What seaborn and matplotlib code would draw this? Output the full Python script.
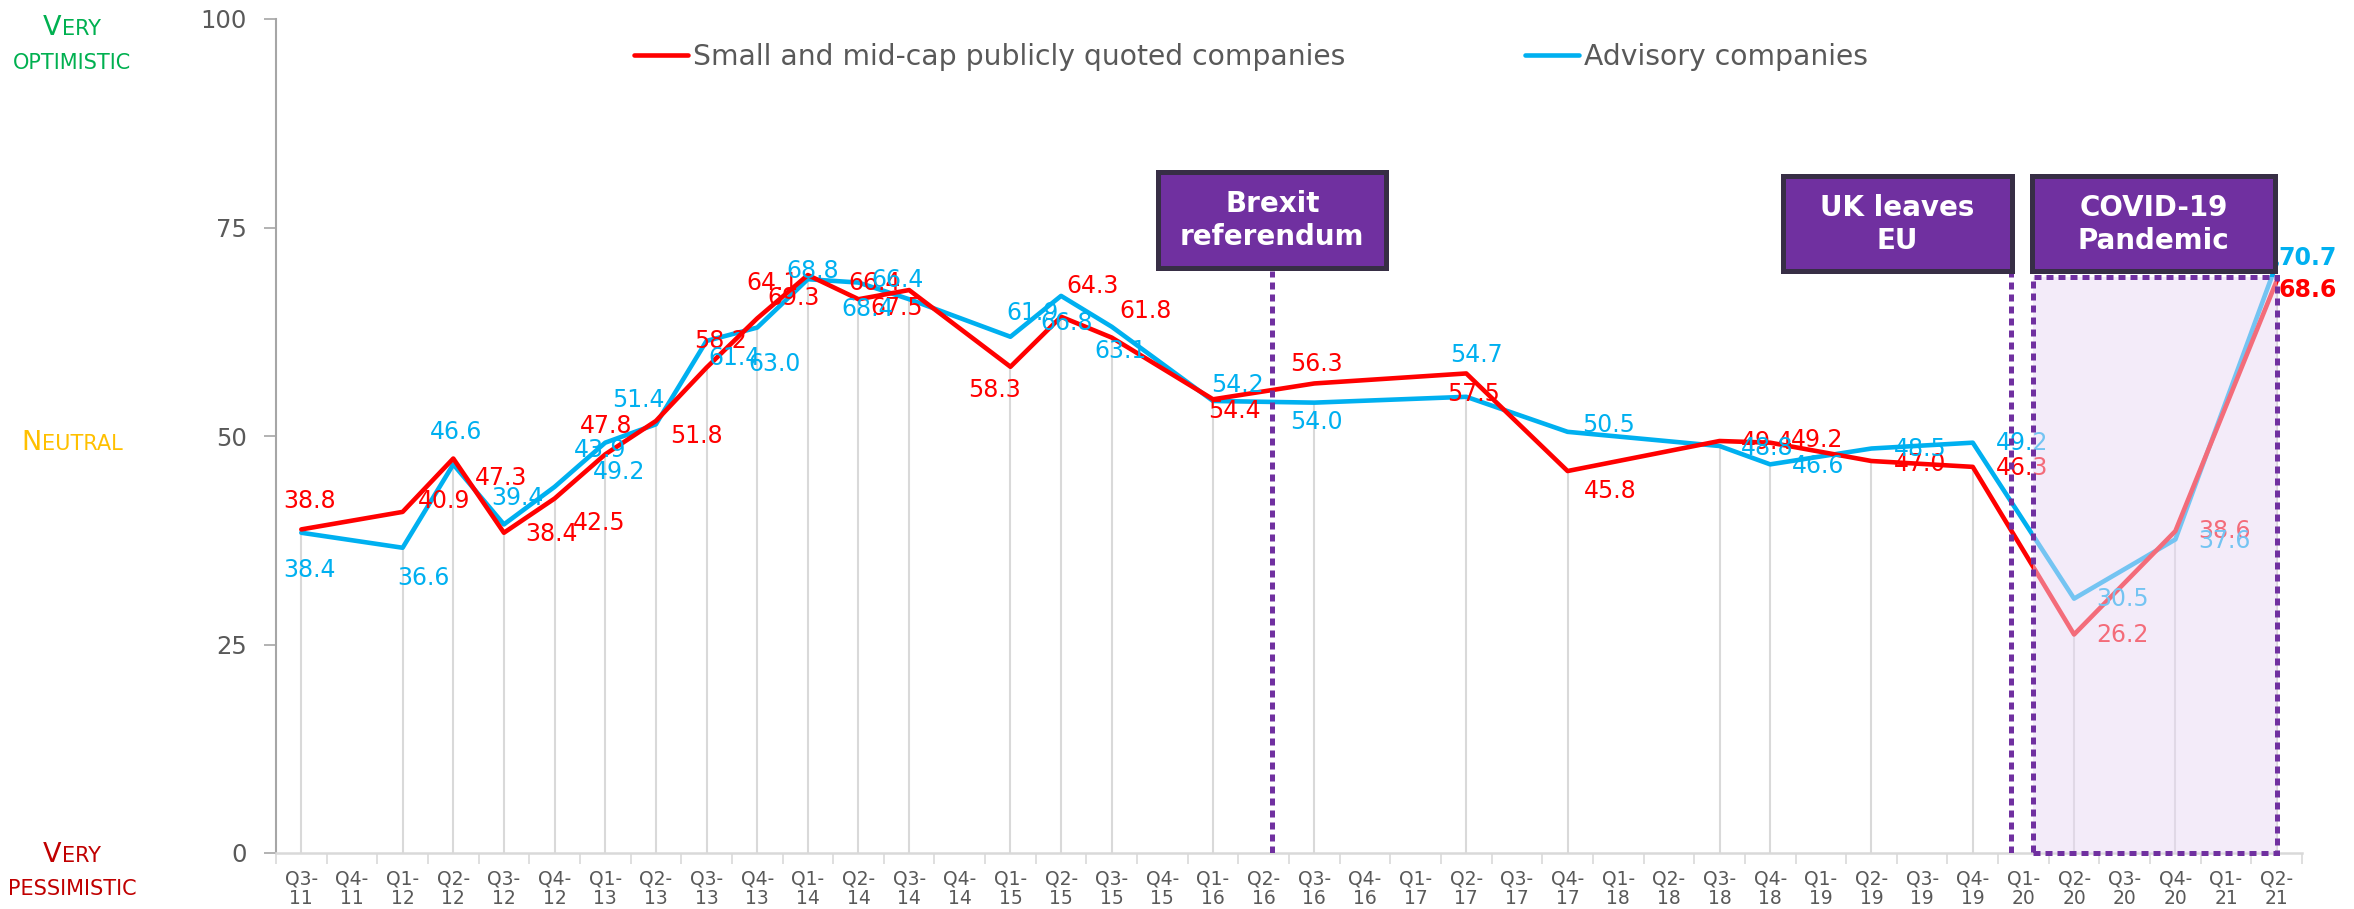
import numpy as np
import pandas as pd
import matplotlib
matplotlib.use("Agg")
import matplotlib.pyplot as plt
import seaborn as sns
from matplotlib.patches import Rectangle
from matplotlib.lines import Line2D

# ---------------- data ----------------
quarters = ["Q3-11", "Q4-11", "Q1-12", "Q2-12", "Q3-12", "Q4-12", "Q1-13", "Q2-13",
            "Q3-13", "Q4-13", "Q1-14", "Q2-14", "Q3-14", "Q4-14", "Q1-15", "Q2-15",
            "Q3-15", "Q4-15", "Q1-16", "Q2-16", "Q3-16", "Q4-16", "Q1-17", "Q2-17",
            "Q3-17", "Q4-17", "Q1-18", "Q2-18", "Q3-18", "Q4-18", "Q1-19", "Q2-19",
            "Q3-19", "Q4-19", "Q1-20", "Q2-20", "Q3-20", "Q4-20", "Q1-21", "Q2-21"]

survey_quarters = ["Q3-11", "Q1-12", "Q2-12", "Q3-12", "Q4-12", "Q1-13", "Q2-13", "Q3-13",
                   "Q4-13", "Q1-14", "Q2-14", "Q3-14", "Q1-15", "Q2-15", "Q3-15", "Q1-16",
                   "Q3-16", "Q2-17", "Q4-17", "Q3-18", "Q4-18", "Q2-19", "Q4-19", "Q2-20",
                   "Q4-20", "Q2-21"]

small_mid_cap = [38.8, 40.9, 47.3, 38.4, 42.5, 47.8, 51.8, 58.2, 64.1, 69.3, 66.4, 67.5,
                 58.3, 64.3, 61.8, 54.4, 56.3, 57.5, 45.8, 49.4, 49.2, 47.0, 46.3, 26.2,
                 38.6, 68.6]
advisory = [38.4, 36.6, 46.6, 39.4, 43.9, 49.2, 51.4, 61.4, 63.0, 68.8, 68.4, 66.4,
            61.9, 66.8, 63.1, 54.2, 54.0, 54.7, 50.5, 48.8, 46.6, 48.5, 49.2, 30.5,
            37.6, 70.7]

series_names = ["Small and mid-cap publicly quoted companies", "Advisory companies"]
events = ["Brexit\nreferendum", "UK leaves\nEU", "COVID-19\nPandemic"]
sentiment_top = ("V", "ERY", "OPTIMISTIC")
sentiment_mid = ("N", "EUTRAL")
sentiment_bot = ("V", "ERY", "PESSIMISTIC")

# data-label offsets (pixels) - styling only
red_off = [(8, 28), (41, 11), (48, -19), (48, -1), (45, -24), (1, 28), (41, -15), (14, 27),
           (15, 35), (-14, -23), (16, 16), (-12, -18), (-16, -23), (31, 31), (34, 27),
           (21, -12), (2, 19), (7, -21), (43, -20), (48, -1), (47, 3), (49, -3), (49, -1),
           (48, -1), (49, 0), (31, -9)]
blue_off = [(8, -37), (21, -30), (3, 32), (14, 26), (45, 37), (14, -29), (-17, 24), (28, -17),
            (17, -36), (5, 8), (9, -26), (-12, 19), (22, 24), (6, -27), (9, -24), (24, 16),
            (2, -19), (10, 42), (41, 7), (48, -2), (48, -2), (49, 0), (49, 0), (48, 0),
            (49, -2), (31, 5)]

RED = "#FF0000"
BLUE = "#00B0F0"
PURPLE = "#7030A0"
BORDER = "#372E45"
GREY_TXT = "#595959"

pos = [quarters.index(q) for q in survey_quarters]
df = pd.DataFrame({
    "pos": pos * 2,
    "value": small_mid_cap + advisory,
    "series": [series_names[0]] * len(pos) + [series_names[1]] * len(pos),
})

# ---------------- figure ----------------
sns.set_theme(style="white")
plt.rcParams["font.family"] = ["DejaVu Sans"]

W, H = 2354, 909
fig = plt.figure(figsize=(W / 100, H / 100), dpi=100)
ax = fig.add_axes([276 / W, 1 - 853 / H, (2302 - 276) / W, (853 - 19) / H])

# drop lines
lows = np.minimum(small_mid_cap, advisory)
ax.vlines(pos, 0, lows, color="#D9D9D9", lw=1.5, zorder=1)

sns.lineplot(data=df, x="pos", y="value", hue="series",
             palette={series_names[0]: RED, series_names[1]: BLUE},
             hue_order=[series_names[1], series_names[0]],
             lw=3.3, legend=False, ax=ax, zorder=3, sort=True)

# data labels
for vals, offs, col in ((small_mid_cap, red_off, RED), (advisory, blue_off, BLUE)):
    for k, (p, v) in enumerate(zip(pos, vals)):
        bold = (k == len(pos) - 1)
        ax.annotate(f"{v:.1f}", xy=(p, v), xytext=offs[k], textcoords="offset pixels",
                    ha="center", va="center", color=col, fontsize=17,
                    fontweight="bold" if bold else "normal", zorder=4)

ax.set_xlim(-0.5, len(quarters) - 0.5)
ax.set_ylim(0, 100)
ax.set_xlabel("")
ax.set_ylabel("")

# axes styling
for s in ("top", "right"):
    ax.spines[s].set_visible(False)
ax.spines["left"].set_color("#A6A6A6")
ax.spines["left"].set_linewidth(1.5)
ax.spines["bottom"].set_color("#D9D9D9")
ax.spines["bottom"].set_linewidth(1.8)

ax.set_yticks([0, 25, 50, 75, 100])
ax.tick_params(axis="y", direction="out", length=9, width=1.2, color="#A6A6A6",
               labelsize=17.5, labelcolor=GREY_TXT, pad=12, left=True)
ax.set_xticks(np.arange(len(quarters) + 1) - 0.5)
ax.set_xticklabels([])
ax.set_xticks(np.arange(len(quarters)), minor=True)
ax.set_xticklabels([q.replace("-", "-\n") for q in quarters], minor=True)
ax.tick_params(axis="x", which="major", direction="out", length=8, width=1.2,
               color="#D9D9D9", bottom=True)
ax.tick_params(axis="x", which="minor", length=0, labelsize=13.5, labelcolor=GREY_TXT,
               pad=12)
for t in ax.get_xticklabels(minor=True):
    t.set_linespacing(1.05)
ax.grid(False)

# COVID shaded region (over the lines)
ax.add_patch(Rectangle((34.18, 0), 39.0 - 34.18, 69.1, facecolor="#E8D8F4", alpha=0.5,
                       edgecolor="none", zorder=5))
ax.add_patch(Rectangle((34.18, 0), 39.0 - 34.18, 69.1, fill=False, edgecolor=PURPLE,
                       lw=3.6, linestyle=(0, (1.4, 1.0)), zorder=6, clip_on=False))
# event vertical dotted lines
for xe in (19.17, 33.75):
    ax.plot([xe, xe], [0, 69.8], color=PURPLE, lw=3.6, linestyle=(0, (1.4, 1.0)),
            zorder=6, solid_capstyle="butt", dash_capstyle="butt")

# event boxes
boxes = [(16.92, 70.2, 4.5, 11.5, 75.8), (29.25, 69.8, 4.53, 11.4, 75.4),
         (34.17, 69.8, 4.8, 11.4, 75.4)]
for (x0, y0, w, h, yt), label in zip(boxes, events):
    ax.add_patch(Rectangle((x0, y0), w, h, facecolor=PURPLE, edgecolor=BORDER, lw=3.6,
                           zorder=7, clip_on=False))
    ax.text(x0 + w / 2, yt, label, ha="center", va="center", color="white",
            fontsize=20, fontweight="bold", linespacing=1.22, zorder=8)

# legend
handles = [Line2D([], [], color=RED, lw=3.3), Line2D([], [], color=BLUE, lw=3.3)]
fig.legend(handles, series_names, loc="center left", bbox_to_anchor=(634 / W, 1 - 57 / H),
           ncol=2, frameon=False, fontsize=20.3, handlelength=1.9, handletextpad=0.18,
           columnspacing=6.4, borderpad=0, borderaxespad=0, labelcolor=GREY_TXT)

# sentiment side labels (small caps emulation)
renderer = fig.canvas.get_renderer()


def smallcaps(xc, base_px, big, rest, color, big_size=19.5, small_size=15):
    parts = []
    if big:
        parts.append((big, big_size))
    parts.append((rest, small_size))
    texts = [fig.text(0, 0, s, fontsize=sz, color=color, ha="left",
                      va="baseline") for s, sz in parts]
    widths = [t.get_window_extent(renderer).width for t in texts]
    left = xc - sum(widths) / 2
    for t, w in zip(texts, widths):
        t.set_position((left / W, 1 - base_px / H))
        left += w


smallcaps(72, 35, sentiment_top[0], sentiment_top[1], "#00B050")
smallcaps(72, 69, None, sentiment_top[2], "#00B050")
smallcaps(72, 450, sentiment_mid[0], sentiment_mid[1], "#FFC000")
smallcaps(72, 862, sentiment_bot[0], sentiment_bot[1], "#C00000")
smallcaps(72, 895, None, sentiment_bot[2], "#C00000")

fig.savefig("out.png", dpi=100)
